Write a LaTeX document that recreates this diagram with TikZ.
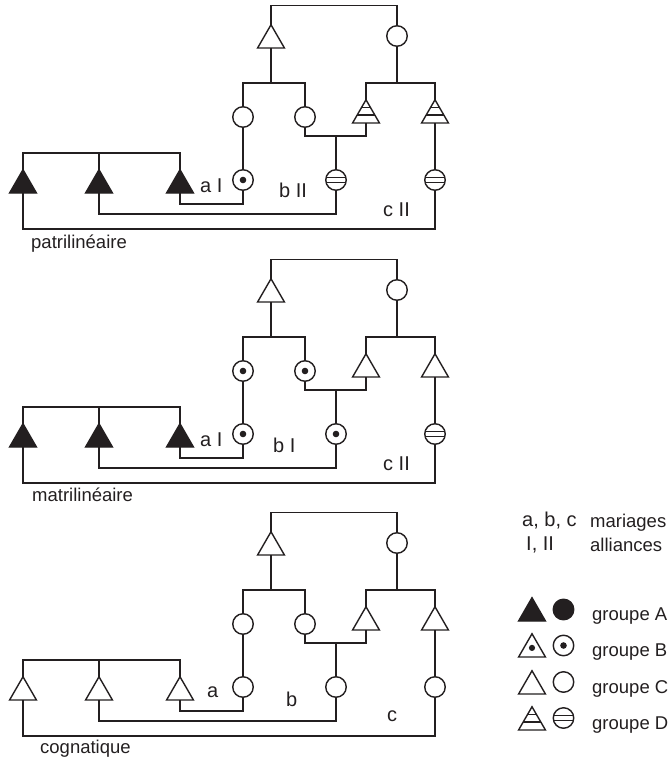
\documentclass[tikz,border=0pt]{standalone}
\usepackage{fontspec}
\setmainfont{Liberation Sans}
\usetikzlibrary{shapes.geometric}
\definecolor{ink}{RGB}{35,31,32}
\tikzset{
  lw/.style={line width=1.4pt, draw=ink},
  tri/.style={regular polygon, regular polygon sides=3, minimum size=31pt, inner sep=0pt, outer sep=0pt, draw=ink, line width=1.4pt, fill=white},
  triA/.style={tri, fill=ink},
  triB/.style={tri, path picture={\fill[ink] ([yshift=-2.5pt]path picture bounding box.center) circle (3.1pt);}},
  triC/.style={tri},
  triD/.style={tri, path picture={\draw[ink, line width=1.7pt] ([yshift=3.9pt]path picture bounding box.west) -- ([yshift=3.9pt]path picture bounding box.east) ([yshift=-3.9pt]path picture bounding box.west) -- ([yshift=-3.9pt]path picture bounding box.east);}},
  circ/.style={circle, minimum size=20.5pt, inner sep=0pt, outer sep=0pt, draw=ink, line width=1.4pt, fill=white},
  circA/.style={circ, fill=ink},
  circB/.style={circ, path picture={\fill[ink] (path picture bounding box.center) circle (3.3pt);}},
  circC/.style={circ},
  circD/.style={circ, path picture={\draw[ink, line width=1.5pt] ([yshift=2.6pt]path picture bounding box.west) -- ([yshift=2.6pt]path picture bounding box.east) ([yshift=-2.6pt]path picture bounding box.west) -- ([yshift=-2.6pt]path picture bounding box.east);}},
  labtxt/.style={font=\fontsize{20}{24}\selectfont, inner sep=0pt, anchor=base west, text=ink},
  captxt/.style={font=\fontsize{18.5}{22}\selectfont, inner sep=0pt, anchor=base west, text=ink},
}
\newcommand\famtree[1]{%
  \coordinate (#1b1) at (0,83);
  \coordinate (#1b2) at (0,136);
  \coordinate (#1b3) at (0,153);
  \coordinate (#1m1) at (0,204);
  \coordinate (#1m2) at (0,214);
  \coordinate (#1m3) at (0,229);
  \node[triC, anchor=side 2] (#1T0) at (271,48) {};
  \node[circC] (#1C0) at (397,36) {};
  \node[cUa] (#1C1) at (243,117) {};
  \node[cUb] (#1C2) at (305,117) {};
  \node[tUa, anchor=side 2] (#1T1) at (366,123) {};
  \node[tUb, anchor=side 2] (#1T2) at (435,123) {};
  \node[kA] (#1K1) at (243,180) {};
  \node[kB] (#1K2) at (336,180) {};
  \node[kC] (#1K3) at (435,180) {};
  \node[tL, anchor=side 2] (#1L1) at (23,193) {};
  \node[tL, anchor=side 2] (#1L2) at (99,193) {};
  \node[tL, anchor=side 2] (#1L3) at (180,193) {};
  \draw[lw] (#1T0.corner 1) -- ++(0,-19) -| (#1C0.north);
  \draw[lw] (#1T0.side 2) -- (#1T0.side 2 |- #1b1);
  \draw[lw] (#1C1.north) |- (#1C2.north |- #1b1) -- (#1C2.north);
  \draw[lw] (#1C0.south) -- (#1C0.south |- #1b1);
  \draw[lw] (#1T1.corner 1) |- (#1T2.corner 1 |- #1b1) -- (#1T2.corner 1);
  \draw[lw] (#1C2.south) |- (#1T1.side 2 |- #1b2) -- (#1T1.side 2);
  \draw[lw] (#1K2.north) -- (#1K2.north |- #1b2);
  \draw[lw] (#1C1.south) -- (#1K1.north);
  \draw[lw] (#1T2.side 2) -- (#1K3.north);
  \draw[lw] (#1L1.corner 1) |- (#1L3.corner 1 |- #1b3) -- (#1L3.corner 1);
  \draw[lw] (#1L2.corner 1) -- (#1L2.corner 1 |- #1b3);
  \draw[lw] (#1L3.side 2) |- (#1K1.south |- #1m1) -- (#1K1.south);
  \draw[lw] (#1L2.side 2) |- (#1K2.south |- #1m2) -- (#1K2.south);
  \draw[lw] (#1L1.side 2) |- (#1K3.south |- #1m3) -- (#1K3.south);
}
\begin{document}
\begin{tikzpicture}[x=1pt, y=-1pt]
\useasboundingbox (0,0) rectangle (669,760);
% patrilineaire
\begin{scope}[tL/.style={triA}, cUa/.style={circC}, cUb/.style={circC}, tUa/.style={triD}, tUb/.style={triD}, kA/.style={circB}, kB/.style={circD}, kC/.style={circD}]
  \famtree{p}
  \node[labtxt] (pla) at (200,192.5) {a I};
  \node[labtxt] (plb) at (279,197.5) {b II};
  \node[labtxt] (plc) at (383,216.5) {c II};
  \node[captxt] (pcap) at (31,248) {patrilinéaire};
\end{scope}
% matrilineaire
\begin{scope}[shift={(0,254)}, tL/.style={triA}, cUa/.style={circB}, cUb/.style={circB}, tUa/.style={triC}, tUb/.style={triC}, kA/.style={circB}, kB/.style={circB}, kC/.style={circD}]
  \famtree{m}
  \node[labtxt] (mla) at (200,192.5) {a I};
  \node[labtxt] (mlb) at (273,198.5) {b I};
  \node[labtxt] (mlc) at (383,216.5) {c II};
  \node[captxt] (mcap) at (32,247.5) {matrilinéaire};
\end{scope}
% cognatique
\begin{scope}[shift={(0,507)}, tL/.style={triC}, cUa/.style={circC}, cUb/.style={circC}, tUa/.style={triC}, tUb/.style={triC}, kA/.style={circC}, kB/.style={circC}, kC/.style={circC}]
  \famtree{c}
  \node[labtxt] (cla) at (207,190.5) {a};
  \node[labtxt] (clb) at (286,199.5) {b};
  \node[labtxt] (clc) at (387,214.5) {c};
  \node[captxt] (ccap) at (40,246) {cognatique};
\end{scope}
% legend
\node[labtxt] (lgabc) at (522,526) {a, b, c};
\node[captxt] (lgmar) at (590,527) {mariages};
\node[labtxt] (lgI) at (526,550) {I, II};
\node[captxt] (lgall) at (590,551) {alliances};
\foreach \g/\yb/\yc/\ts/\cs in {A/621/609.5/triA/circA, B/657/645.5/triB/circB, C/694/682/triC/circC, D/730/718/triD/circD}{
  \node[\ts, anchor=side 2] (lgt\g) at (532,\yb) {};
  \node[\cs] (lgc\g) at (563.5,\yc) {};
  \node[captxt] (lgg\g) at (592,\yb-1) {groupe \g};
}
\end{tikzpicture}
\end{document}
